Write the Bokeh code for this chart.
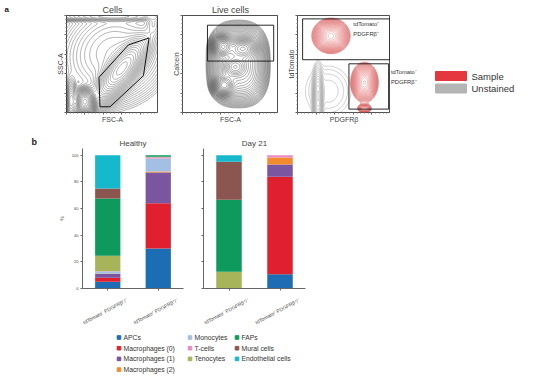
import math
import numpy as np
from bokeh.plotting import figure
from bokeh.layouts import row, column
from bokeh.models import FactorRange, FixedTicker, ColumnDataSource, CustomLabelingPolicy
from bokeh.embed import file_html
from bokeh.resources import INLINE
from bokeh.core.properties import value

FONT = "Liberation Sans"

# ---------------- panel b data ----------------
bar_labels = ["tdTomato⁻ PDGFRβ⁺/⁻", "tdTomato⁺ PDGFRβ⁺/⁻"]
cell_types = ["APCs", "Macrophages (0)", "Macrophages (1)", "Macrophages (2)",
              "Monocytes", "T-cells", "Tenocytes", "FAPs", "Mural cells",
              "Endothelial cells"]
cell_colors = ["#1c6db3", "#e0202e", "#7a55a0", "#f28a2e", "#a3bfe3",
               "#e88bc4", "#a7b45a", "#0e9a5c", "#8b5550", "#16b8cc"]
healthy_neg = [5, 3, 3, 0.3, 1.5, 0.2, 11.5, 43, 7.5, 25]
healthy_pos = [30, 34, 23, 0.8, 9.7, 1.0, 0.3, 1.2, 0, 0]
day21_neg = [0, 0, 0, 0, 0, 0, 12.5, 54, 28.5, 5]
day21_pos = [10.75, 73, 9.25, 5.25, 0, 1.75, 0, 0, 0, 0]
pct_ticks = [0, 20, 40, 60, 80, 100]

# ---------------- panel a data (population centres / spreads) ----------------
cells_cx = [0.20, 0.05, 0.60, 0.50, 0.50, 0.95]
cells_cy = [0.11, 0.12, 0.45, 0.62, 0.99, 0.92]
cells_sx = [0.05, 0.03, 0.18, 0.30, 0.35, 0.05]
cells_sy = [0.06, 0.10, 0.07, 0.25, 0.025, 0.08]
cells_ang = [0, 0, 50, 20, 0, 0]
cells_w = [1.0, 0.25, 0.55, 0.08, 0.10, 0.05]
cells_pow = [2, 2, 2, 2, 2, 2]
cells_gate_x = [0.353, 0.364, 0.473, 0.836, 0.898, 0.673]
cells_gate_y = [0.362, 0.059, 0.059, 0.379, 0.769, 0.697]

live_cx = [0.42, 0.63, 0.55, 0.43, 0.58]
live_cy = [0.68, 0.66, 0.47, 0.28, 0.50]
live_sx = [0.05, 0.07, 0.06, 0.05, 0.17]
live_sy = [0.05, 0.05, 0.05, 0.05, 0.23]
live_ang = [0, 0, 0, 0, 0]
live_w = [1.0, 0.7, 0.6, 0.8, 0.45]
live_pow = [2, 2, 2, 2, 2.6]
live_gate = [0.26, 0.95, 0.53, 0.90]  # left, right, bottom, top

red_cx = [0.36, 0.72, 0.72]
red_cy = [0.79, 0.31, 0.04]
red_sx = [0.09, 0.068, 0.04]
red_sy = [0.08, 0.095, 0.025]
red_ang = [0, 0, 0]
red_w = [1.0, 0.8, 0.35]
red_pow = [2, 2, 2]
gray_cx = [0.22, 0.33]
gray_cy = [0.17, 0.22]
gray_sx = [0.022, 0.16]
gray_sy = [0.12, 0.17]
gray_ang = [0, 0]
gray_w = [1.0, 0.05]
gray_pow = [2, 2]
gate_top = [0.055, 0.996, 0.544, 0.965]
gate_bottom = [0.553, 0.98, 0.035, 0.502]

# frame geometry (page pixels)
A_TOP, A_BOT, A_H = 15, 18, 130
B_TOP, B_FT, B_FH, B_FB = 130, 18, 140, 4


def no_labels():
    return CustomLabelingPolicy(code="return []")


def density(cx, cy, sx, sy, ang, w, pw, n=170):
    g = np.linspace(0, 1, n)
    X, Y = np.meshgrid(g, g)
    Z = np.zeros_like(X)
    for a, b, s1, s2, t, ww, k in zip(cx, cy, sx, sy, ang, w, pw):
        th = math.radians(t)
        u = (X - a) * math.cos(th) + (Y - b) * math.sin(th)
        v = -(X - a) * math.sin(th) + (Y - b) * math.cos(th)
        Z += ww * np.exp(-0.5 * (np.abs(u / s1) ** k + np.abs(v / s2) ** k))
    return g, g, Z / Z.max()


def blank_fig(width, height, top, bottom, x_range=(0, 1), y_range=(0, 1),
              title=None, offset=0, standoff=2, size="8px"):
    p = figure(width=width, height=height, x_range=x_range, y_range=y_range,
               min_border_left=0, min_border_right=0, min_border_top=top,
               min_border_bottom=bottom, x_axis_type=None, y_axis_type=None,
               output_backend="svg", toolbar_location=None, title=title)
    p.grid.visible = False
    p.outline_line_color = None
    if title:
        p.title.text_font = FONT
        p.title.text_font_size = size
        p.title.text_font_style = "bold"
        p.title.align = "left"
        p.title.offset = offset
        p.title.standoff = standoff
        p.title.text_color = "#222"
    return p


def flow_fig(width, left, title, xlabel, ylabel):
    p = figure(width=width, height=A_H, x_range=(0, 1), y_range=(0, 1),
               min_border_left=left, min_border_right=0, min_border_top=A_TOP,
               min_border_bottom=A_BOT, output_backend="svg", toolbar_location=None,
               title=title)
    p.title.text_font = FONT
    p.title.text_font_size = "9px"
    p.title.text_font_style = "normal"
    p.title.align = "center"
    p.title.standoff = 2
    p.grid.visible = False
    p.outline_line_color = "#222"
    p.outline_line_width = 0.8
    for ax, lab in ((p.xaxis, xlabel), (p.yaxis, ylabel)):
        ax.axis_label = lab
        ax.axis_label_text_font = FONT
        ax.axis_label_text_font_size = "7px"
        ax.axis_label_text_font_style = "normal"
        ax.axis_label_standoff = 1
        ax.major_label_text_font_size = "0px"
        ax.major_label_policy = no_labels()
        ax.major_label_standoff = 0
        ax.major_tick_out = 2
        ax.minor_tick_out = 1
        ax.major_tick_in = 0
        ax.minor_tick_in = 0
        ax.axis_line_color = None
        ax.major_tick_line_color = "#555"
        ax.minor_tick_line_color = "#777"
    return p


# ---- panel letter a (as a title above an empty frame)
pa = blank_fig(20, A_H, A_TOP, A_BOT, title="a", offset=4, standoff=4, size="8px")

# ---- a1 Cells
a1 = flow_fig(138, 46, "Cells", "FSC-A", "SSC-A")
xs, ys, Z = density(cells_cx, cells_cy, cells_sx, cells_sy, cells_ang, cells_w, cells_pow)
a1.contour(x=xs, y=ys, z=Z, levels=list(np.geomspace(0.004, 0.92, 32)),
           line_color="#333333", line_width=0.5, line_alpha=0.75)
a1.patch(cells_gate_x, cells_gate_y, fill_color=None, line_color="#111", line_width=1)

# ---- a2 Live cells
a2 = flow_fig(120, 24, "Live cells", "FSC-A", "Calcein")
xs, ys, Z = density(live_cx, live_cy, live_sx, live_sy, live_ang, live_w, live_pow)
a2.contour(x=xs, y=ys, z=Z, levels=list(np.geomspace(0.02, 0.95, 28)),
           line_color="#1a1a1a", line_width=0.5, line_alpha=0.75)
a2.quad(left=[live_gate[0]], right=[live_gate[1]], bottom=[live_gate[2]],
        top=[live_gate[3]], fill_color=None, line_color="#111", line_width=0.9)

# ---- a3 tdTomato vs PDGFRb
a3 = flow_fig(112, 19, "", "PDGFRβ", "tdTomato")
xs, ys, Z = density(gray_cx, gray_cy, gray_sx, gray_sy, gray_ang, gray_w, gray_pow)
a3.contour(x=xs, y=ys, z=Z, levels=list(np.geomspace(0.015, 0.9, 14)),
           line_color="#8c8c8c", line_width=0.5, line_alpha=0.8)
xs, ys, Z = density(red_cx, red_cy, red_sx, red_sy, red_ang, red_w, red_pow)
a3.contour(x=xs, y=ys, z=Z, levels=list(np.geomspace(0.07, 0.95, 28)),
           line_color="#d94a4a", line_width=0.5, line_alpha=0.65)
a3.quad(left=[gate_top[0], gate_bottom[0]], right=[gate_top[1], gate_bottom[1]],
        bottom=[gate_top[2], gate_bottom[2]], top=[gate_top[3], gate_bottom[3]],
        fill_color=None, line_color="#111", line_width=0.9)
a3.text(x=[0.6, 0.6], y=[0.91, 0.81], text=["tdTomato⁺", "PDGFRβ⁺"],
        text_font=value(FONT), text_font_size="5.8px", text_baseline="middle",
        text_color="#333")

# ---- legend for a (frame spans page y 15..112)
legA = blank_fig(167, A_H, A_TOP, A_BOT, x_range=(390, 557),
                 y_range=(A_H - A_BOT, A_TOP))
legend_a_labels = ["Sample", "Unstained"]
legend_a_colors = ["#e5383e", "#b4b4b4"]
legA.rect(x=[450.5, 450.5], y=[75.5, 88], width=31, height=9,
          color=legend_a_colors)
legA.text(x=[471, 471], y=[75.5, 88], text=legend_a_labels, text_font=value(FONT),
          text_font_size="9.5px", text_baseline="middle", text_color="#333")
legA.text(x=[390.5, 390.5], y=[71.5, 81.5], text=["tdTomato⁻", "PDGFRβ⁺"],
          text_font=value(FONT), text_font_size="5.8px", text_baseline="middle",
          text_color="#333")


# ---------------- panel b ----------------
def bar_fig(width, left, right, title, neg, pos, show_labels):
    data = {"label": bar_labels}
    for i, ct in enumerate(cell_types):
        data[ct] = [neg[i], pos[i]]
    src = ColumnDataSource(data)
    p = figure(width=width, height=B_FT + B_FH + B_FB,
               x_range=FactorRange(*bar_labels), y_range=(0, 105),
               min_border_left=left, min_border_right=right,
               min_border_top=B_FT, min_border_bottom=B_FB, output_backend="svg",
               toolbar_location=None, title=title)
    p.title.text_font = FONT
    p.title.text_font_size = "8px"
    p.title.text_font_style = "normal"
    p.title.align = "center"
    p.title.standoff = 1
    p.vbar_stack(cell_types, x="label", width=0.5, color=cell_colors,
                 line_color=None, source=src)
    p.grid.visible = False
    p.outline_line_color = None
    p.yaxis.ticker = FixedTicker(ticks=pct_ticks)
    p.yaxis.minor_tick_line_color = None
    for ax in (p.xaxis, p.yaxis):
        ax.axis_line_color = "#666"
        ax.axis_line_width = 1
        ax.major_tick_line_color = "#666"
        ax.major_tick_out = 2
        ax.major_tick_in = 0
        ax.major_label_text_font = FONT
        ax.major_label_text_color = "#444"
    if show_labels:
        p.yaxis.major_label_text_font_size = "4px"
        p.yaxis.major_label_standoff = 2
        p.yaxis.axis_label = "%"
        p.yaxis.axis_label_text_font = FONT
        p.yaxis.axis_label_text_font_size = "5px"
        p.yaxis.axis_label_text_font_style = "normal"
        p.yaxis.axis_label_standoff = 4
    else:
        p.yaxis.major_label_text_font_size = "0px"
        p.yaxis.major_label_policy = no_labels()
        p.yaxis.major_label_standoff = 0
    p.xaxis.major_label_text_font_size = "0px"
    p.xaxis.major_label_policy = no_labels()
    p.xaxis.major_label_standoff = 0
    return p


# ---- panel letter b
pb = blank_fig(40, B_FT + B_FH + B_FB, B_FT, B_FB, title="b", offset=31,
               standoff=3, size="9px")

B1_LEFT, B1_W = 82, 101
B2_LEFT, B2_W = 203, 102
b1 = bar_fig(B1_LEFT - 40 + B1_W + 10, B1_LEFT - 40, 10, "Healthy",
             healthy_neg, healthy_pos, True)
b2 = bar_fig(557 - (B1_LEFT + B1_W + 10), 10, 557 - B2_LEFT - B2_W, "Day 21",
             day21_neg, day21_pos, False)

# ---- category labels + legend for b (below the bars)
LEG_TOP = B_TOP + B_FT + B_FH + B_FB
legB = blank_fig(557, 377 - LEG_TOP, 0, 0, x_range=(0, 557), y_range=(377, LEG_TOP))
lab_x, lab_t = [], []
for left, w in ((B1_LEFT, B1_W), (B2_LEFT, B2_W)):
    for i, lab in enumerate(bar_labels):
        lab_x.append(left + w * (i + 0.5) / len(bar_labels) - 2.5)
        lab_t.append(lab)
legB.text(x=lab_x, y=[310.5] * len(lab_x), text=lab_t, angle=28, angle_units="deg",
          text_align="center", text_baseline="middle", text_font=value(FONT),
          text_font_size="5px", text_color="#444")

col_idx = [0, 0, 0, 0, 1, 1, 1, 2, 2, 2]
row_idx = [0, 1, 2, 3, 0, 1, 2, 0, 1, 2]
col_x = [118.5, 189.5, 236.5]
sq_x = [col_x[c] for c in col_idx]
sq_y = [337 + 10.7 * r for r in row_idx]
legB.rect(x=sq_x, y=sq_y, width=3.6, height=3.6, color=cell_colors)
legB.text(x=[x + 4.5 for x in sq_x], y=sq_y, text=cell_types, text_font=value(FONT),
          text_font_size="6.8px", text_baseline="middle", text_color="#333")

layout = column(row(pa, a1, a2, a3, legA), row(pb, b1, b2), legB)
open("out.html", "w").write(file_html(layout, INLINE))
